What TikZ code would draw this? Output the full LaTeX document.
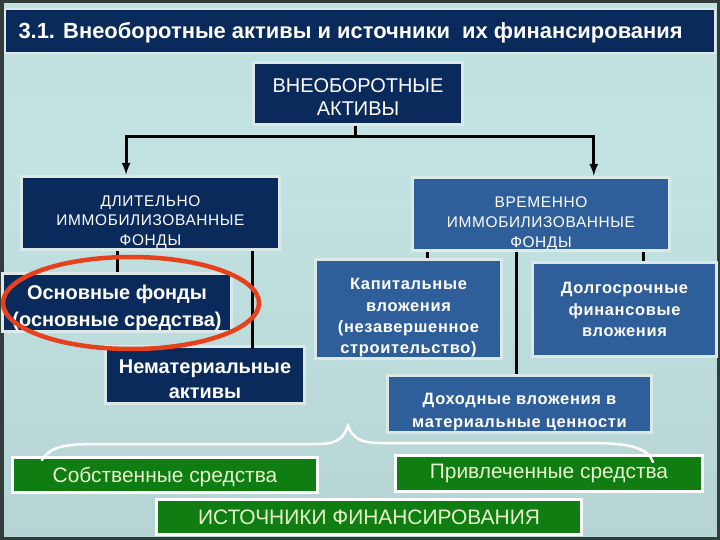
\documentclass[tikz,border=0pt]{standalone}
\usepackage{fontspec}
\setmainfont{Liberation Sans}
\newfontfamily\spacedfont[LetterSpace=4]{Liberation Sans}
\usetikzlibrary{arrows}

\definecolor{navyfill}{HTML}{0B2A5C}
\definecolor{bluefill}{HTML}{2F5F9A}
\definecolor{greenfill}{HTML}{0F7D12}
\definecolor{greentext}{HTML}{E8F4CC}
\definecolor{boxline}{HTML}{DCE8E8}
\definecolor{ovalred}{HTML}{E6401C}
\definecolor{frame}{HTML}{323C3A}
\definecolor{bgtop}{HTML}{7C8C88}
\definecolor{bglight}{HTML}{C3E3E3}
\definecolor{bgbot}{HTML}{4A5C58}

\pgfdeclareverticalshading{bgshade}{720bp}{color(0bp)=(bgbot); color(60bp)=(bgbot!80!bglight); color(140bp)=(bgbot!45!bglight); color(280bp)=(bglight); color(400bp)=(bglight!85!bgtop); color(480bp)=(bgtop); color(540bp)=(bgtop!80!black)}

% strut that pushes a box's text down
\newcommand{\txtdrop}[1]{\rule{0pt}{#1bp}}

\tikzset{
  box/.style={draw=boxline, line width=3bp, align=center, inner sep=0pt, text=white},
  navybox/.style={box, fill=navyfill},
  bluebox/.style={box, fill=bluefill},
  greenbox/.style={box, draw=white, fill=greenfill, text=greentext, font=\fontsize{21}{24}\selectfont},
  conn/.style={line width=3bp, black},
  brace/.style={line width=2.5bp, white, line cap=round},
}

\begin{document}
\begin{tikzpicture}[x=1bp, y=-1bp]
	\useasboundingbox (0,0) rectangle (720,540);
	\shade[shading=bgshade] (0,0) rectangle (720,540);
	\draw[frame, line width=7bp] (0,0) rectangle (720,540);

	% title bar
	\draw[fill=navyfill, draw=boxline, line width=2bp] (5,9) rectangle (715,53);
	\node[anchor=west, text=white, font=\bfseries\fontsize{22}{26}\selectfont] (title) at (15,33) {3.1. Внеоборотные активы и источники\ \ их финансирования};

	% assets
	\node[navybox, minimum width=210, minimum height=63, font=\fontsize{20}{23}\selectfont] (vna) at (358,93.5) {\txtdrop{21}ВНЕОБОРОТНЫЕ\\АКТИВЫ};
	\node[navybox, minimum width=259, minimum height=74, font=\spacedfont\fontsize{15.5}{20}\selectfont] (dlit) at (150.5,213) {\txtdrop{29}ДЛИТЕЛЬНО\\ИММОБИЛИЗОВАННЫЕ\\ФОНДЫ};
	\node[bluebox, minimum width=258, minimum height=74, font=\spacedfont\fontsize{15.5}{20}\selectfont] (vrem) at (541,214) {\txtdrop{30}ВРЕМЕННО\\ИММОБИЛИЗОВАННЫЕ\\ФОНДЫ};
	\node[navybox, minimum width=230, minimum height=59, font=\bfseries\fontsize{20}{27}\selectfont] (osn) at (117,302.5) {\txtdrop{25}Основные фонды\\(основные средства)};
	\node[navybox, minimum width=200, minimum height=58, font=\bfseries\fontsize{20}{25}\selectfont] (nemat) at (205,375) {\txtdrop{23}Нематериальные\\активы};
	\node[bluebox, minimum width=187, minimum height=100, font=\spacedfont\bfseries\fontsize{16.5}{21.5}\selectfont] (kap) at (408.5,309) {\txtdrop{29}Капитальные\\вложения\\(незавершенное\\строительство)};
	\node[bluebox, minimum width=185, minimum height=95, font=\spacedfont\bfseries\fontsize{16.5}{21.5}\selectfont] (dolg) at (624.5,309.5) {Долгосрочные\\финансовые\\вложения};
	\node[bluebox, minimum width=265, minimum height=58, font=\spacedfont\bfseries\fontsize{16.5}{23}\selectfont] (dohod) at (519.5,404) {\txtdrop{27}Доходные вложения в\\материальные ценности};

	% sources
	\node[greenbox, minimum width=306, minimum height=36] (sobst) at (165,475) {\txtdrop{19}Собственные средства};
	\node[greenbox, minimum width=308, minimum height=37] (privl) at (549,473.5) {Привлеченные средства};
	\node[greenbox, minimum width=426, minimum height=36] (istoch) at (369,517) {ИСТОЧНИКИ ФИНАНСИРОВАНИЯ};

	% connectors
	\coordinate (jn) at (355,137);
	\draw[conn] (vna.south -| jn) -- (jn);
	\draw[conn, -latex] (jn) -| ([xshift=-24.5]dlit.north);
	\draw[conn, -latex] (jn) -| ([xshift=53]vrem.north);
	\coordinate (ln) at (252,0);
	\draw[conn] (osn.north |- dlit.south) -- (osn.north);
	\draw[conn] (dlit.south -| ln) -- ([yshift=-4]nemat.north -| ln);
	\coordinate (rn) at (427,0);
	\coordinate (mn) at (516,0);
	\coordinate (fn) at (643,0);
	\draw[conn] (vrem.south -| rn) -- (kap.north -| rn);
	\draw[conn] (vrem.south -| mn) -- (dohod.north -| mn);
	\draw[conn] (vrem.south -| fn) -- (dolg.north -| fn);

	% brace
	\coordinate (bl) at (42,460);
	\coordinate (bp) at (348,426);
	\coordinate (br) at (653,462);
	\draw[brace] (bl) .. controls (52,444) and (70,444) .. (110,444) -- (318,444)
		.. controls (340,444) and (344,436) .. (bp)
		.. controls (352,436) and (358,443) .. (380,443) -- (590,443)
		.. controls (630,443) and (648,448) .. (br);

	% highlight
	\draw[ovalred, line width=4.5bp] (131,303) ellipse [x radius=128, y radius=46];
\end{tikzpicture}
\end{document}
